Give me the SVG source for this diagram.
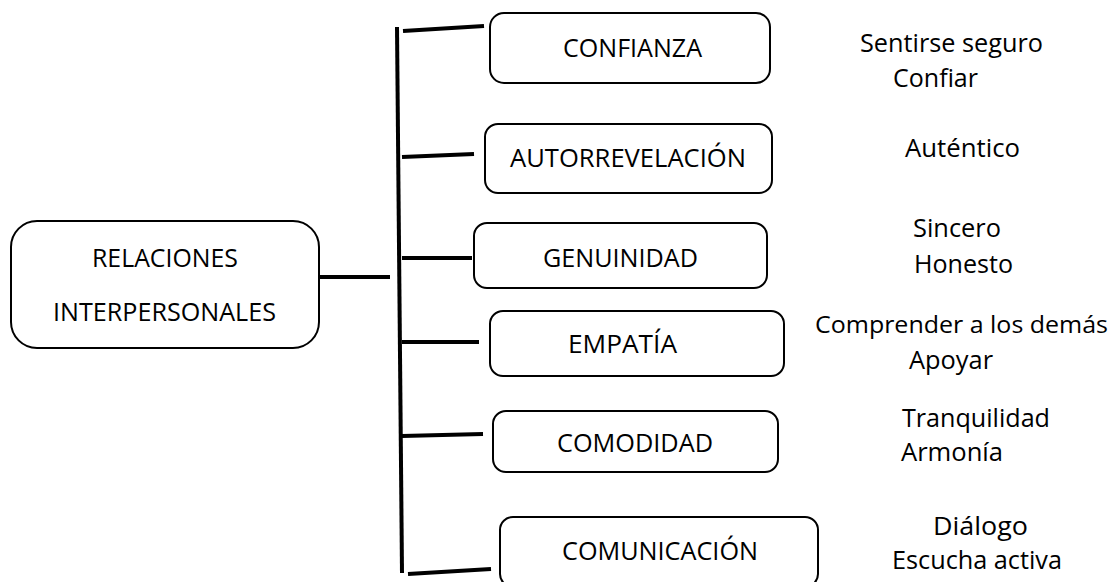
<svg xmlns="http://www.w3.org/2000/svg" width="1117" height="582" viewBox="0 0 1117 582">
<style>
.box{fill:#ffffff;stroke:#000000;stroke-width:2}
.ln{stroke:#000000;stroke-width:4;stroke-linecap:butt;fill:none}
.t{font-family:"Open Sans","Noto Sans","Liberation Sans",sans-serif;font-size:26px;fill:#000000}
.s{font-size:24px}
</style>
<rect width="1117" height="582" fill="#ffffff"/>
<g id="connectors">
<line class="ln" x1="320" y1="277" x2="390" y2="277"/>
<line class="ln" x1="397" y1="27" x2="402" y2="573"/>
<line class="ln" x1="403" y1="31" x2="484" y2="26"/>
<line class="ln" x1="402" y1="157" x2="474" y2="154"/>
<line class="ln" x1="402" y1="258" x2="472" y2="258"/>
<line class="ln" x1="402" y1="342" x2="479" y2="342"/>
<line class="ln" x1="402" y1="436" x2="483" y2="434"/>
<line class="ln" x1="408" y1="574" x2="491" y2="569"/>
</g>
<g id="node-relaciones">
<rect class="box" x="11" y="221" width="308" height="127" rx="26"/>
<text class="t" x="92" y="267" textLength="146" lengthAdjust="spacingAndGlyphs">RELACIONES</text>
<text class="t" x="53" y="321" textLength="223" lengthAdjust="spacingAndGlyphs">INTERPERSONALES</text>
</g>
<g id="node-confianza">
<rect class="box" x="490" y="13" width="280" height="70" rx="14"/>
<text class="t" x="563" y="57" textLength="139" lengthAdjust="spacingAndGlyphs">CONFIANZA</text>
</g>
<g id="node-autorrevelacion">
<rect class="box" x="485" y="124" width="287" height="69" rx="13"/>
<text class="t" x="510" y="167" textLength="236" lengthAdjust="spacingAndGlyphs">AUTORREVELACIÓN</text>
</g>
<g id="node-genuinidad">
<rect class="box" x="474" y="223" width="293" height="65" rx="13"/>
<text class="t" x="543" y="267" textLength="155" lengthAdjust="spacingAndGlyphs">GENUINIDAD</text>
</g>
<g id="node-empatia">
<rect class="box" x="490" y="311" width="294" height="65" rx="13"/>
<text class="t" x="568" y="353" textLength="109" lengthAdjust="spacingAndGlyphs">EMPATÍA</text>
</g>
<g id="node-comodidad">
<rect class="box" x="493" y="411" width="285" height="61" rx="13"/>
<text class="t" x="557" y="452" textLength="156" lengthAdjust="spacingAndGlyphs">COMODIDAD</text>
</g>
<g id="node-comunicacion">
<rect class="box" x="500" y="517" width="318" height="70" rx="13"/>
<text class="t" x="562" y="560" textLength="196" lengthAdjust="spacingAndGlyphs">COMUNICACIÓN</text>
</g>
<g id="labels">
<text class="t" x="860" y="52" textLength="183" lengthAdjust="spacingAndGlyphs">Sentirse seguro</text>
<text class="t" x="893" y="87" textLength="85" lengthAdjust="spacingAndGlyphs">Confiar</text>
<text class="t" x="905" y="157" textLength="115" lengthAdjust="spacingAndGlyphs">Auténtico</text>
<text class="t" x="913" y="237" textLength="88" lengthAdjust="spacingAndGlyphs">Sincero</text>
<text class="t" x="914" y="273" textLength="99" lengthAdjust="spacingAndGlyphs">Honesto</text>
<text class="t s" x="815" y="333" textLength="293" lengthAdjust="spacingAndGlyphs">Comprender a los demás</text>
<text class="t" x="909" y="369" textLength="84" lengthAdjust="spacingAndGlyphs">Apoyar</text>
<text class="t" x="902" y="427" textLength="148" lengthAdjust="spacingAndGlyphs">Tranquilidad</text>
<text class="t" x="901" y="461" textLength="102" lengthAdjust="spacingAndGlyphs">Armonía</text>
<text class="t" x="933" y="535" textLength="95" lengthAdjust="spacingAndGlyphs">Diálogo</text>
<text class="t" x="892" y="569" textLength="170" lengthAdjust="spacingAndGlyphs">Escucha activa</text>
</g>
</svg>
